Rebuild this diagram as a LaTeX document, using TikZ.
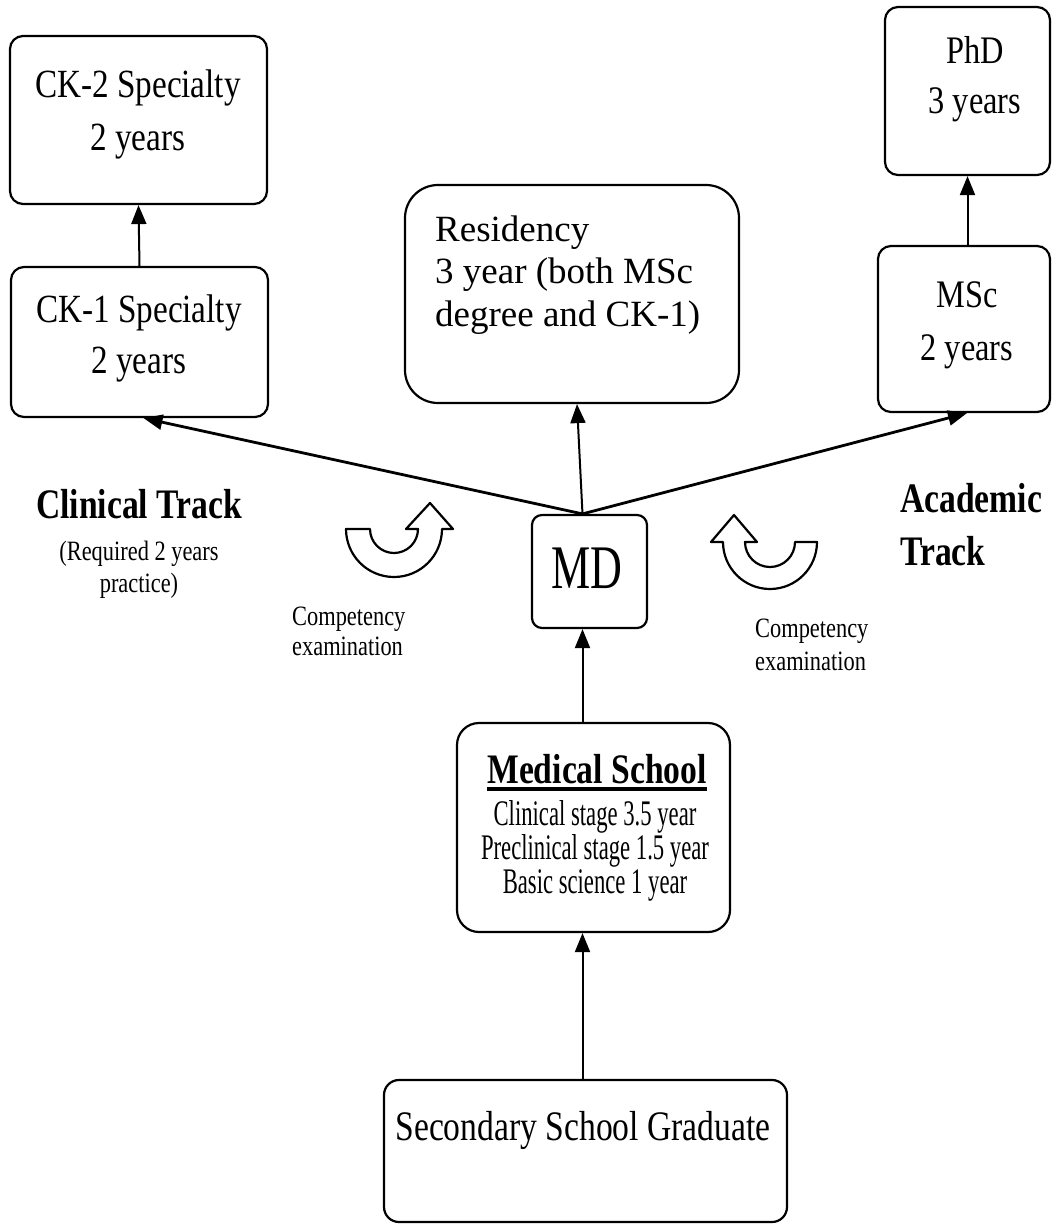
\documentclass[tikz,border=0pt]{standalone}
\usepackage{fontspec}
\setmainfont{Liberation Serif}
\newfontfamily\fA[FakeStretch=0.83]{Liberation Serif}
\newfontfamily\fB[FakeStretch=0.71]{Liberation Serif}
\newfontfamily\fC[FakeStretch=0.63]{Liberation Serif}
\newfontfamily\fD[FakeStretch=0.80]{Liberation Serif}
\usetikzlibrary{arrows.meta}
\newcommand\thul[1]{\vtop{\hbox{#1}\kern4pt\hrule height 4pt}}
\begin{document}
\begin{tikzpicture}[x=1pt,y=-1pt,
  box/.style={draw, line width=2.2pt, inner sep=0pt},
  txt/.style={inner sep=0pt, anchor=base},
  arr/.style={line width=2pt, -{Triangle[length=19pt,width=15pt]}},
  darr/.style={line width=2.8pt, -{Triangle[length=19pt,width=15pt]}},
  uarr/.style={draw, line width=2.2pt, fill=white, line join=round}]
\useasboundingbox (0,0) rectangle (1052,1224);

% boxes
\node[box, rounded corners=13pt, minimum width=257pt, minimum height=168pt] (ck2) at (138.5,120) {};
\node[box, rounded corners=13pt, minimum width=257pt, minimum height=150pt] (ck1) at (139.5,342) {};
\node[box, rounded corners=13pt, minimum width=165pt, minimum height=168pt] (phd) at (967.5,91) {};
\node[box, rounded corners=13pt, minimum width=172pt, minimum height=166pt] (msc) at (964,329) {};
\node[box, rounded corners=33pt, minimum width=334pt, minimum height=218pt] (res) at (572,294) {};
\node[box, rounded corners=10pt, minimum width=115pt, minimum height=113pt] (md) at (589.5,571.5) {};
\node[box, rounded corners=22pt, minimum width=273pt, minimum height=209pt] (med) at (593.5,827.5) {};
\node[box, rounded corners=15pt, minimum width=403pt, minimum height=142pt] (sec) at (585.5,1151) {};

% box texts (anchor base = baseline of the last line)
\node[txt, align=center, font={\fA\fontsize{40}{53}\selectfont}] (ck2t) at (138,150) {CK-2 Specialty\\2 years};
\node[txt, align=center, font={\fA\fontsize{40}{51}\selectfont}] (ck1t) at (139,373) {CK-1 Specialty\\2 years};
\node[txt, align=center, font={\fA\fontsize{39}{50}\selectfont}] (phdt) at (975,113) {PhD\\3 years};
\node[txt, align=center, font={\fA\fontsize{39}{53}\selectfont}] (msct) at (967,360) {MSc\\2 years};
\node[txt, align=left, anchor=base west, font={\fontsize{37}{42.5}\selectfont}] (rest) at (435,326) {Residency\\3 year (both MSc\\degree and CK-1)};
\node[txt, font={\fB\fontsize{62}{70}\selectfont}] (mdt) at (587,588) {MD};
\node[txt, font={\fD\bfseries\fontsize{42}{50}\selectfont}] (medh) at (597,783) {\thul{Medical School}};
\node[txt, align=center, font={\fC\fontsize{36}{34}\selectfont}] (medt) at (595,893) {Clinical stage 3.5 year\\Preclinical stage 1.5 year\\Basic science 1 year};
\node[txt, font={\fD\fontsize{42}{50}\selectfont}] (sect) at (583,1140) {Secondary School Graduate};

% side labels
\node[txt, font={\fD\bfseries\fontsize{42}{50}\selectfont}] (clin) at (139,518) {Clinical Track};
\node[txt, align=center, font={\fD\fontsize{28}{32}\selectfont}] (clinr) at (139,592) {(Required 2 years\\practice)};
\node[txt, anchor=base west, align=left, font={\fD\bfseries\fontsize{42}{53}\selectfont}] (acad) at (900,565) {Academic\\Track};
\node[txt, anchor=base west, align=left, font={\fD\fontsize{28}{30}\selectfont}] (compl) at (292,655) {Competency\\examination};
\node[txt, anchor=base west, align=left, font={\fD\fontsize{28}{33}\selectfont}] (compr) at (755,670) {Competency\\examination};

% connector points
\coordinate (mdtop) at ([xshift=-7pt]md.north);
\coordinate (mdbot) at ([xshift=-7pt]md.south);

% connectors
\draw[arr] (ck1.north) -- (ck2.south);
\draw[arr] (msc.north -| phd.south) -- (phd.south);
\draw[darr] (mdtop) -- ([xshift=4pt]ck1.south);
\draw[arr] (mdtop) -- ([xshift=5pt]res.south);
\draw[darr] (mdtop) -- ([xshift=3pt]msc.south);
\draw[arr] (med.north -| mdbot) -- (mdbot);
\draw[arr] (sec.north -| mdbot) -- (med.south -| mdbot);

% U-turn arrows
\draw[uarr] (346,529) arc[start angle=180,end angle=0,radius=48] -- (453,529) -- (430,503) -- (406,529) -- (418,529) arc[start angle=0,end angle=180,radius=24] -- cycle;
\draw[uarr] (817,542) arc[start angle=0,end angle=180,radius=47] -- (711,542) -- (734,515) -- (757,542) -- (745,542) arc[start angle=180,end angle=0,radius=25] -- cycle;
\end{tikzpicture}
\end{document}
